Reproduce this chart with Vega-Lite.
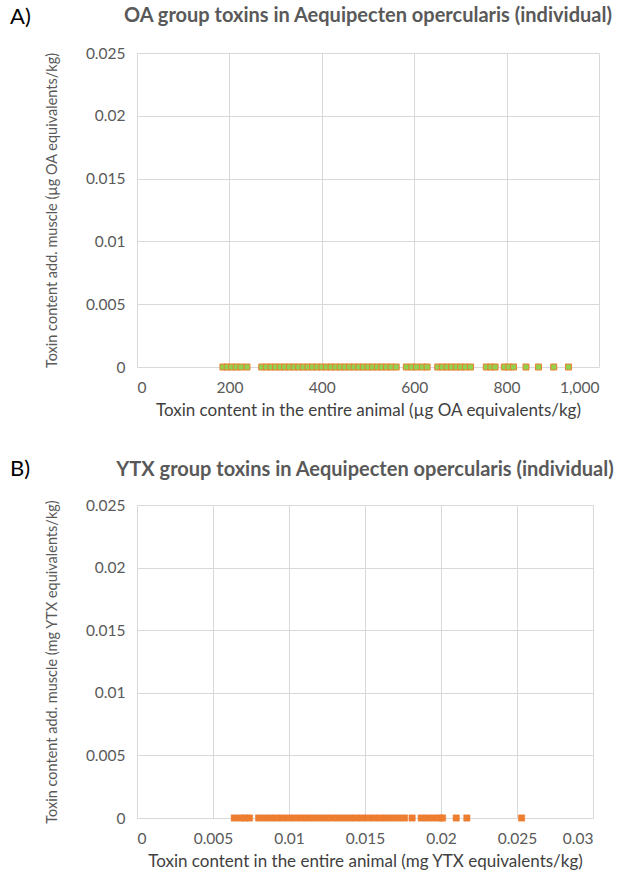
{
  "$schema": "https://vega.github.io/schema/vega-lite/v6.json",
  "background": "white",
  "padding": {"left": 10, "top": 5, "right": 5, "bottom": 2},
  "datasets": {
    "oa": [
      {"x": 186, "y": 0}, {"x": 195, "y": 0}, {"x": 205, "y": 0}, {"x": 215, "y": 0}, {"x": 225, "y": 0}, {"x": 238, "y": 0},
      {"x": 270, "y": 0}, {"x": 280, "y": 0}, {"x": 290, "y": 0}, {"x": 300, "y": 0}, {"x": 310, "y": 0}, {"x": 320, "y": 0},
      {"x": 330, "y": 0}, {"x": 340, "y": 0}, {"x": 350, "y": 0}, {"x": 360, "y": 0}, {"x": 370, "y": 0}, {"x": 380, "y": 0},
      {"x": 390, "y": 0}, {"x": 400, "y": 0}, {"x": 410, "y": 0}, {"x": 420, "y": 0}, {"x": 430, "y": 0}, {"x": 440, "y": 0},
      {"x": 450, "y": 0}, {"x": 460, "y": 0}, {"x": 470, "y": 0}, {"x": 480, "y": 0}, {"x": 490, "y": 0}, {"x": 500, "y": 0},
      {"x": 510, "y": 0}, {"x": 520, "y": 0}, {"x": 530, "y": 0}, {"x": 540, "y": 0}, {"x": 550, "y": 0}, {"x": 561, "y": 0},
      {"x": 583, "y": 0}, {"x": 595, "y": 0}, {"x": 605, "y": 0}, {"x": 618, "y": 0}, {"x": 628, "y": 0},
      {"x": 651, "y": 0}, {"x": 661, "y": 0}, {"x": 671, "y": 0}, {"x": 681, "y": 0}, {"x": 691, "y": 0}, {"x": 701, "y": 0},
      {"x": 711, "y": 0}, {"x": 722, "y": 0},
      {"x": 756, "y": 0}, {"x": 766, "y": 0}, {"x": 775, "y": 0},
      {"x": 795, "y": 0}, {"x": 805, "y": 0}, {"x": 815, "y": 0},
      {"x": 842, "y": 0}, {"x": 869, "y": 0}, {"x": 902, "y": 0}, {"x": 934, "y": 0}
    ],
    "ytx": [
      {"x": 0.0064, "y": 0}, {"x": 0.0068, "y": 0}, {"x": 0.0071, "y": 0}, {"x": 0.0074, "y": 0},
      {"x": 0.0080, "y": 0}, {"x": 0.0084, "y": 0}, {"x": 0.0088, "y": 0}, {"x": 0.0092, "y": 0}, {"x": 0.0096, "y": 0},
      {"x": 0.0100, "y": 0}, {"x": 0.0104, "y": 0}, {"x": 0.0108, "y": 0}, {"x": 0.0112, "y": 0}, {"x": 0.0116, "y": 0},
      {"x": 0.0120, "y": 0}, {"x": 0.0124, "y": 0}, {"x": 0.0128, "y": 0}, {"x": 0.0132, "y": 0}, {"x": 0.0136, "y": 0},
      {"x": 0.0140, "y": 0}, {"x": 0.0144, "y": 0}, {"x": 0.0148, "y": 0}, {"x": 0.0152, "y": 0}, {"x": 0.0156, "y": 0},
      {"x": 0.0160, "y": 0}, {"x": 0.0164, "y": 0}, {"x": 0.0168, "y": 0}, {"x": 0.0172, "y": 0}, {"x": 0.0176, "y": 0},
      {"x": 0.0181, "y": 0},
      {"x": 0.0187, "y": 0}, {"x": 0.0191, "y": 0}, {"x": 0.0195, "y": 0}, {"x": 0.0199, "y": 0}, {"x": 0.0201, "y": 0},
      {"x": 0.0210, "y": 0}, {"x": 0.0217, "y": 0}, {"x": 0.0253, "y": 0}
    ]
  },
  "config": {
    "font": "Lato",
    "view": {"stroke": null},
    "axis": {
      "gridColor": "#d9d9d9",
      "gridWidth": 1,
      "domain": false,
      "ticks": false,
      "labelColor": "#595959",
      "labelFontSize": 15.5,
      "titleColor": "#404040",
      "titleFontWeight": "normal"
    },
    "axisY": {"titleFontSize": 14.5, "titlePadding": 26, "titleColor": "#595959", "labelPadding": 12},
    "axisX": {"titleFontSize": 17, "titlePadding": 7, "labelPadding": 13}
  },
  "vconcat": [
    {
      "hconcat": [
        {
          "width": 1,
          "height": 1,
          "data": {"values": [{"t": ""}]},
          "mark": {"type": "text"},
          "encoding": {"text": {"field": "t"}},
          "title": {"text": "A)", "fontSize": 22, "fontWeight": "normal", "anchor": "start", "color": "#000000", "dy": -15}
        },
        {
          "width": 462,
          "height": 314,
          "title": {"text": "OA group toxins in Aequipecten opercularis (individual)", "fontSize": 20, "fontWeight": "bold", "color": "#595959", "anchor": "middle", "offset": 20},
          "data": {"name": "oa"},
          "mark": {"type": "square", "size": 36, "fill": "#92d050", "stroke": "#ed7d31", "strokeWidth": 1, "opacity": 1},
          "encoding": {
            "x": {"field": "x", "type": "quantitative", "scale": {"domain": [0, 1000], "nice": false},
                  "axis": {"values": [0, 200, 400, 600, 800, 1000], "format": ",.0f", "title": "Toxin content in the entire animal (µg OA equivalents/kg)"}},
            "y": {"field": "y", "type": "quantitative", "scale": {"domain": [0, 0.025], "nice": false},
                  "axis": {"values": [0, 0.005, 0.01, 0.015, 0.02, 0.025], "format": "~g", "title": "Toxin content add. muscle (µg OA equivalents/kg)"}}
          }
        }
      ],
      "spacing": 13,
      "align": "none"
    },
    {
      "hconcat": [
        {
          "width": 1,
          "height": 1,
          "data": {"values": [{"t": ""}]},
          "mark": {"type": "text"},
          "encoding": {"text": {"field": "t"}},
          "title": {"text": "B)", "fontSize": 22, "fontWeight": "normal", "anchor": "start", "color": "#000000", "dy": -15}
        },
        {
          "width": 456,
          "height": 313,
          "title": {"text": "YTX group toxins in Aequipecten opercularis (individual)", "fontSize": 20, "fontWeight": "bold", "color": "#595959", "anchor": "middle", "offset": 18},
          "data": {"name": "ytx"},
          "mark": {"type": "square", "size": 40, "fill": "#ed7d31", "stroke": "#ed7d31", "strokeWidth": 0.5, "opacity": 1},
          "encoding": {
            "x": {"field": "x", "type": "quantitative", "scale": {"domain": [0, 0.03], "nice": false},
                  "axis": {"values": [0, 0.005, 0.01, 0.015, 0.02, 0.025, 0.03], "format": "~g", "title": "Toxin content in the entire animal (mg YTX equivalents/kg)"}},
            "y": {"field": "y", "type": "quantitative", "scale": {"domain": [0, 0.025], "nice": false},
                  "axis": {"values": [0, 0.005, 0.01, 0.015, 0.02, 0.025], "format": "~g", "title": "Toxin content add. muscle (mg YTX equivalents/kg)"}}
          }
        }
      ],
      "spacing": 13,
      "align": "none"
    }
  ],
  "spacing": 38
}
